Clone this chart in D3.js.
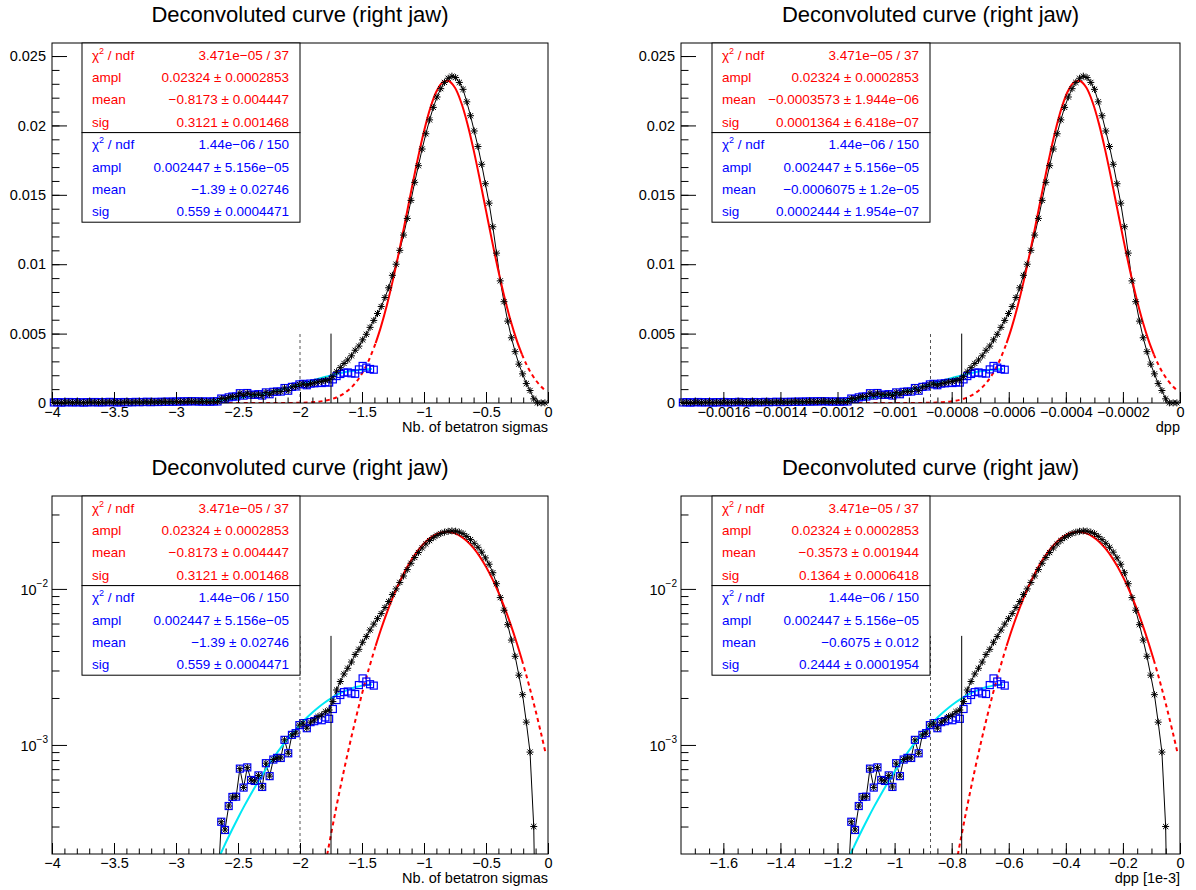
<!DOCTYPE html>
<html>
<head>
<meta charset="utf-8">
<script src="https://cdn.jsdelivr.net/npm/d3@7"></script>
<style>
  body { margin: 0; background: #fff; }
  svg { display: block; }
</style>
</head>
<body>
<svg id="chart" width="1196" height="890"></svg>
<script>
const FONT = "'Liberation Sans', Arial, Helvetica, sans-serif";

// ---------- data ----------
// histogram bins, centres in betatron sigmas
const binStart = -3.985, binWidth = 0.03;

// bins 0..68 : shared by the black histogram and the blue tail histogram
const tailVals = [
  4e-5, 6e-5, 3e-5, 5e-5, 7e-5, 4e-5, 6e-5, 5e-5, 3e-5, 6e-5,
  5e-5, 7e-5, 4e-5, 6e-5, 5e-5, 8e-5, 5e-5, 6e-5, 4e-5, 7e-5,
  6e-5, 5e-5, 8e-5, 6e-5, 7e-5, 9e-5, 6e-5, 8e-5, 7e-5, 9e-5,
  8e-5, 1.0e-4, 9e-5, 1.1e-4, 1.0e-4, 1.2e-4, 1.1e-4, 1.3e-4, 1.2e-4, 1.1e-4,
  1.0e-4, 1.1e-4, 0.9e-4, 1.2e-4, 1.1e-4,
  3.22e-4, 2.85e-4, 4.06e-4, 4.64e-4, 4.66e-4, 7.05e-4, 5.33e-4, 7.18e-4, 5.96e-4, 5.88e-4,
  6.38e-4, 5.38e-4, 7.64e-4, 6.31e-4, 8.06e-4, 8.26e-4, 8.25e-4, 1.078e-3, 8.84e-4, 1.16e-3,
  1.19e-3, 1.34e-3, 1.38e-3, 1.28e-3
];
// bins 69..132 of the full (black) distribution
const blackRest = [
  1.40e-3, 1.445e-3, 1.52e-3, 1.556e-3, 1.633e-3, 1.675e-3, 1.896e-3,
  2.25e-3, 2.55e-3, 2.85e-3, 3.10e-3, 3.40e-3, 3.80e-3, 4.10e-3, 4.55e-3, 4.95e-3, 5.45e-3,
  5.95e-3, 6.45e-3, 6.95e-3, 7.60e-3, 8.30e-3, 9.20e-3, 0.0100, 0.0110, 0.0121, 0.0133,
  0.0146, 0.0159, 0.0171, 0.0183, 0.0194, 0.0204, 0.0213, 0.02205, 0.02265, 0.0231,
  0.0234, 0.02355, 0.02345, 0.0231, 0.0226, 0.0217, 0.0207, 0.0196, 0.01848, 0.0172,
  0.0158, 0.0144, 0.0127, 0.0108, 0.0088, 0.0073, 0.0059, 0.0047, 0.0037, 0.0028,
  0.0021, 0.0014, 0.0009, 0.0003, 1e-5, 1e-5, 1e-5
];
// bins 69..86 of the blue tail histogram
const blueRest = [
  1.40e-3, 1.42e-3, 1.46e-3, 1.44e-3, 1.50e-3, 1.47e-3, 1.70e-3, 1.94e-3, 2.09e-3,
  2.18e-3, 2.20e-3, 2.14e-3, 2.12e-3, 2.42e-3, 2.67e-3, 2.55e-3, 2.45e-3, 2.40e-3
];

// cyan tail fit curve
const cyanX = [-4.0, -3.8, -3.5, -3.35, -3.2, -3.0, -2.9, -2.8, -2.7, -2.65, -2.6, -2.55, -2.5,
  -2.45, -2.4, -2.35, -2.3, -2.25, -2.2, -2.15, -2.1, -2.05, -2.0, -1.95, -1.9, -1.85, -1.8,
  -1.75, -1.7, -1.65, -1.6, -1.55, -1.5, -1.45, -1.42];
const cyanY = [4.5e-8, 2.25e-7, 1.97e-6, 5.2e-6, 1.29e-5, 3.87e-5, 6.37e-5, 1.017e-4, 1.571e-4,
  1.929e-4, 2.351e-4, 2.841e-4, 3.406e-4, 4.053e-4, 4.784e-4, 5.599e-4, 6.503e-4, 7.493e-4,
  8.564e-4, 9.709e-4, 1.0923e-3, 1.2188e-3, 1.349e-3, 1.4814e-3, 1.6138e-3, 1.7442e-3,
  1.8698e-3, 1.9887e-3, 2.0981e-3, 2.1962e-3, 2.2803e-3, 2.3489e-3, 2.4e-3, 2.4329e-3, 2.4435e-3];

// red core fit: dashed left part, solid fit range, dashed right part
const redLeftX = [-3.0, -2.5, -2.2, -2.0, -1.9, -1.85, -1.8, -1.75, -1.7, -1.65, -1.6, -1.55, -1.5, -1.45, -1.39];
const redLeftY = [5.6e-13, 1.1e-8, 1.27e-6, 1.77e-5, 5.66e-5, 9.74e-5, 1.635e-4, 2.670e-4, 4.257e-4,
  6.617e-4, 1.001e-3, 1.477e-3, 2.125e-3, 2.976e-3, 4.315e-3];
const redFitX = [-1.39, -1.35, -1.30, -1.25, -1.20, -1.15, -1.10, -1.05, -1.00, -0.95, -0.90, -0.85,
  -0.80, -0.75, -0.70, -0.65, -0.60, -0.55, -0.50, -0.45, -0.40, -0.35, -0.30, -0.25, -0.21];
const redFitY = [4.315e-3, 5.415e-3, 7.028e-3, 8.890e-3, 0.010958, 0.013168, 0.015420, 0.01760,
  0.01958, 0.02123, 0.02244, 0.02311, 0.02320, 0.02271, 0.02165, 0.02013, 0.01824, 0.01611,
  0.01386, 0.01163, 0.009507, 0.007576, 0.005885, 0.004455, 0.003500];
const redRightX = [-0.21, -0.18, -0.15, -0.10, -0.05, -0.02];
const redRightY = [3.500e-3, 2.889e-3, 2.363e-3, 1.657e-3, 1.132e-3, 8.90e-4];

// cut lines (sigma units) and their top
const cutDashed = -2.0, cutSolid = -1.75, cutTop = 0.005;

// conversion sigma -> dpp (ratio of the fitted widths)
const dppPerSigma = 4.371e-4;

// axis ticks
const sigmaTicks = [-4, -3.5, -3, -2.5, -2, -1.5, -1, -0.5, 0];
const sigmaTickLabels = ["\u22124", "\u22123.5", "\u22123", "\u22122.5", "\u22122", "\u22121.5", "\u22121", "\u22120.5", "0"];
const dppTicks = [-0.0016, -0.0014, -0.0012, -0.001, -0.0008, -0.0006, -0.0004, -0.0002, 0];
const dppTickLabels = ["\u22120.0016", "\u22120.0014", "\u22120.0012", "\u22120.001", "\u22120.0008", "\u22120.0006", "\u22120.0004", "\u22120.0002", "0"];
const milliTicks = [-1.6, -1.4, -1.2, -1, -0.8, -0.6, -0.4, -0.2, 0];
const milliTickLabels = ["\u22121.6", "\u22121.4", "\u22121.2", "\u22121", "\u22120.8", "\u22120.6", "\u22120.4", "\u22120.2", "0"];
const linTicks = [0, 0.005, 0.01, 0.015, 0.02, 0.025];
const linTickLabels = ["0", "0.005", "0.01", "0.015", "0.02", "0.025"];
const logTicks = [1e-3, 1e-2];
const logTickExp = ["\u22123", "\u22122"];

// stat boxes
const redChi = "3.471e\u221205 / 37";
const blueChi = "1.44e\u221206 / 150";
const parNames = ["ampl", "mean", "sig"];
const redStatsSigma = ["0.02324 \u00b1 0.0002853", "\u22120.8173 \u00b1 0.004447", "0.3121 \u00b1 0.001468"];
const blueStatsSigma = ["0.002447 \u00b1 5.156e\u221205", "\u22121.39 \u00b1 0.02746", "0.559 \u00b1 0.0004471"];
const redStatsDpp = ["0.02324 \u00b1 0.0002853", "\u22120.0003573 \u00b1 1.944e\u221206", "0.0001364 \u00b1 6.418e\u221207"];
const blueStatsDpp = ["0.002447 \u00b1 5.156e\u221205", "\u22120.0006075 \u00b1 1.2e\u221205", "0.0002444 \u00b1 1.954e\u221207"];
const redStatsMilli = ["0.02324 \u00b1 0.0002853", "\u22120.3573 \u00b1 0.001944", "0.1364 \u00b1 0.0006418"];
const blueStatsMilli = ["0.002447 \u00b1 5.156e\u221205", "\u22120.6075 \u00b1 0.012", "0.2444 \u00b1 0.0001954"];

const titleText = "Deconvoluted curve (right jaw)";

// ---------- derived ----------
const blackVals = tailVals.concat(blackRest);
const blueVals = tailVals.concat(blueRest);
const blackPts = blackVals.map((v, i) => [binStart + i * binWidth, v]);
const bluePts = blueVals.map((v, i) => [binStart + i * binWidth, v]);
const zip = (xs, ys) => xs.map((x, i) => [x, ys[i]]);

const panels = [
  {id: 1, left: 52, right: 548, top: 43, bottom: 403, log: false, unit: 1,
   ticks: sigmaTicks, tickLabels: sigmaTickLabels, minor: 0.1, xTitle: "Nb. of betatron sigmas",
   boxL: 82, boxR: 300, red: redStatsSigma, blue: blueStatsSigma},
  {id: 2, left: 681, right: 1180, top: 43, bottom: 403, log: false, unit: dppPerSigma,
   ticks: dppTicks, tickLabels: dppTickLabels, minor: 0.00005, xTitle: "dpp",
   boxL: 712, boxR: 930, red: redStatsDpp, blue: blueStatsDpp},
  {id: 3, left: 52, right: 548, top: 496, bottom: 854, log: true, unit: 1,
   ticks: sigmaTicks, tickLabels: sigmaTickLabels, minor: 0.1, xTitle: "Nb. of betatron sigmas",
   boxL: 82, boxR: 300, red: redStatsSigma, blue: blueStatsSigma},
  {id: 4, left: 681, right: 1180, top: 496, bottom: 854, log: true, unit: dppPerSigma * 1000,
   ticks: milliTicks, tickLabels: milliTickLabels, minor: 0.05, xTitle: "dpp [1e-3]",
   boxL: 712, boxR: 930, red: redStatsMilli, blue: blueStatsMilli}
];

const svg = d3.select("#chart");
svg.append("rect").attr("width", 1196).attr("height", 890).attr("fill", "#fff");
const defs = svg.append("defs");

function drawPanel(p) {
  const g = svg.append("g");
  const xMin = -4 * p.unit;
  const x = d3.scaleLinear().domain([xMin, 0]).range([p.left, p.right]);
  const y = p.log
    ? d3.scaleLog().domain([2e-4, 0.0394]).range([p.bottom, p.top])
    : d3.scaleLinear().domain([0, 0.02594]).range([p.bottom, p.top]);
  const yMin = y.domain()[0], yMax = y.domain()[1];

  defs.append("clipPath").attr("id", "clip" + p.id)
    .append("rect").attr("x", p.left).attr("y", p.top)
    .attr("width", p.right - p.left).attr("height", p.bottom - p.top);

  const plot = g.append("g").attr("clip-path", `url(#clip${p.id})`);
  const line = d3.line().x(d => x(d[0] * p.unit)).y(d => y(d[1]));
  const smooth = d3.line().x(d => x(d[0] * p.unit)).y(d => y(d[1])).curve(d3.curveCatmullRom.alpha(0.5));
  const inside = d => d[1] >= yMin && d[1] <= yMax;

  // black histogram line
  plot.append("path").attr("d", line(blackPts))
    .attr("fill", "none").attr("stroke", "#000").attr("stroke-width", 1);

  // blue open squares
  g.append("g").selectAll("rect").data(bluePts.filter(inside)).join("rect")
    .attr("x", d => x(d[0] * p.unit) - 3.5).attr("y", d => y(d[1]) - 3.5)
    .attr("width", 7).attr("height", 7)
    .attr("fill", "none").attr("stroke", "#0000ff").attr("stroke-width", 1.2);

  // black star markers
  const star = "M-3.5,0H3.5M0,-3.5V3.5M-2.6,-2.6L2.6,2.6M-2.6,2.6L2.6,-2.6";
  g.append("g").selectAll("path").data(blackPts.filter(inside)).join("path")
    .attr("transform", d => `translate(${x(d[0] * p.unit)},${y(d[1])})`)
    .attr("d", star).attr("fill", "none").attr("stroke", "#000").attr("stroke-width", 1);

  // cyan fit
  plot.append("path").attr("d", smooth(zip(cyanX, cyanY)))
    .attr("fill", "none").attr("stroke", "#00e8f4").attr("stroke-width", 2);

  // red fit (dashed outside the fit range)
  [zip(redLeftX, redLeftY), zip(redRightX, redRightY)].forEach(pts => {
    plot.append("path").attr("d", smooth(pts))
      .attr("fill", "none").attr("stroke", "#ff0000").attr("stroke-width", 2)
      .attr("stroke-dasharray", "4,3.5");
  });
  plot.append("path").attr("d", smooth(zip(redFitX, redFitY)))
    .attr("fill", "none").attr("stroke", "#ff0000").attr("stroke-width", 2);

  // cut lines
  g.append("line")
    .attr("x1", x(cutDashed * p.unit)).attr("x2", x(cutDashed * p.unit))
    .attr("y1", y(yMin)).attr("y2", y(cutTop))
    .attr("stroke", "#555").attr("stroke-width", 1).attr("stroke-dasharray", "3,3");
  g.append("line")
    .attr("x1", x(cutSolid * p.unit)).attr("x2", x(cutSolid * p.unit))
    .attr("y1", y(yMin)).attr("y2", y(cutTop))
    .attr("stroke", "#000").attr("stroke-width", 1);

  // x axis: minor + major ticks pointing into the frame
  const minorX = d3.range(0, 41).map(k => -k * p.minor).filter(v => v >= xMin - 1e-9 * p.unit);
  g.append("g").attr("transform", `translate(0,${p.bottom})`)
    .call(d3.axisBottom(x).tickValues(minorX).tickSize(-5.5).tickFormat(""))
    .call(a => a.select(".domain").remove());
  g.append("g").attr("transform", `translate(0,${p.bottom})`)
    .call(d3.axisBottom(x).tickValues(p.ticks).tickSize(-11).tickPadding(4)
      .tickFormat((d, i) => p.tickLabels[i]))
    .call(a => a.select(".domain").remove())
    .attr("font-size", 14.5).attr("font-family", FONT)
    .selectAll("text").attr("fill", "#000");

  // y axis
  if (!p.log) {
    const minorY = d3.range(0, 26).map(k => k * 0.001);
    g.append("g").attr("transform", `translate(${p.left},0)`)
      .call(d3.axisLeft(y).tickValues(minorY).tickSize(-7.5).tickFormat(""))
      .call(a => a.select(".domain").remove());
    g.append("g").attr("transform", `translate(${p.left},0)`)
      .call(d3.axisLeft(y).tickValues(linTicks).tickSize(-15).tickPadding(6)
        .tickFormat((d, i) => linTickLabels[i]))
      .call(a => a.select(".domain").remove())
      .attr("font-size", 14.5).attr("font-family", FONT)
      .selectAll("text").attr("fill", "#000");
  } else {
    const minorY = [];
    [-4, -3, -2].forEach(e => d3.range(2, 10).forEach(m => {
      const v = m * Math.pow(10, e);
      if (v > yMin && v < yMax) minorY.push(v);
    }));
    g.append("g").attr("transform", `translate(${p.left},0)`)
      .call(d3.axisLeft(y).tickValues(minorY).tickSize(-7.5).tickFormat(""))
      .call(a => a.select(".domain").remove());
    g.append("g").attr("transform", `translate(${p.left},0)`)
      .call(d3.axisLeft(y).tickValues(logTicks).tickSize(-15).tickFormat(""))
      .call(a => a.select(".domain").remove());
    logTicks.forEach((v, i) => {
      const t = g.append("text").attr("x", p.left - 4).attr("y", y(v) + 6)
        .attr("text-anchor", "end").attr("font-family", FONT).attr("font-size", 14.5).attr("fill", "#000");
      t.append("tspan").text("10");
      t.append("tspan").attr("dy", -8).attr("font-size", 10).text(logTickExp[i]);
    });
  }

  // frame
  g.append("rect").attr("x", p.left).attr("y", p.top)
    .attr("width", p.right - p.left).attr("height", p.bottom - p.top)
    .attr("fill", "none").attr("stroke", "#000").attr("stroke-width", 1);

  // stat boxes
  const rowH = 22.4;
  [[p.red, redChi, "#ff0000", 0], [p.blue, blueChi, "#0000ff", 1]].forEach(([vals, chi, col, k]) => {
    const top = p.top + k * rowH * 4;
    g.append("rect").attr("x", p.boxL).attr("y", top)
      .attr("width", p.boxR - p.boxL).attr("height", rowH * 4)
      .attr("fill", "#fff").attr("stroke", "#000").attr("stroke-width", 1);
    const rows = [["chi", chi]].concat(parNames.map((n, i) => [n, vals[i]]));
    rows.forEach(([name, val], r) => {
      const yc = top + 11.8 + r * rowH;
      const lab = g.append("text").attr("x", p.boxL + 10).attr("y", yc).attr("dy", "0.35em")
        .attr("font-family", FONT).attr("font-size", 13.5).attr("fill", col);
      if (name === "chi") {
        lab.append("tspan").text("\u03c7");
        lab.append("tspan").attr("dy", -6).attr("font-size", 9).text("2");
        lab.append("tspan").attr("dy", 6).text(" / ndf");
      } else {
        lab.text(name);
      }
      g.append("text").attr("x", p.boxR - 11).attr("y", yc).attr("dy", "0.35em")
        .attr("text-anchor", "end").attr("font-family", FONT).attr("font-size", 13.5)
        .attr("fill", col).text(val);
    });
  });

  // title and axis title
  g.append("text").attr("x", (p.left + p.right) / 2).attr("y", p.top - 28.5).attr("dy", "0.35em")
    .attr("text-anchor", "middle").attr("font-family", FONT).attr("font-size", 22)
    .attr("fill", "#000").text(titleText);
  g.append("text").attr("x", p.right).attr("y", p.bottom + 29)
    .attr("text-anchor", "end").attr("font-family", FONT).attr("font-size", 14.5)
    .attr("fill", "#000").text(p.xTitle);
}

panels.forEach(drawPanel);
</script>
</body>
</html>
